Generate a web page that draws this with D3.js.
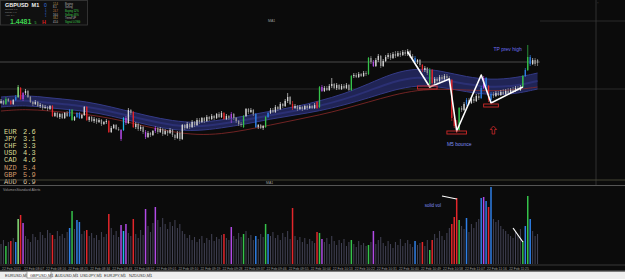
<!DOCTYPE html>
<html><head><meta charset="utf-8">
<script src="https://cdn.jsdelivr.net/npm/d3@7/dist/d3.min.js"></script>
<style>html,body{margin:0;padding:0;background:#0b0b0b;overflow:hidden}svg{display:block}</style>
</head><body><svg id="c" width="625" height="279"></svg>
<script>
// ---------- DATA ----------
const PIP_BASE = 1.4;           // prices stored as pips above 1.4000
const symbol = "GBPUSD  M1";
const lastPrice = "1.4481";
// open, close, high, low (pips over 1.4000), GBPUSD M1
const ohlc = [
[441,443,445,440],[443,440,444,439],[440,445,447,439],[445,443,446,442],[443,440,444,439],
[440,444,445,439],[444,447,449,443],[447,457,459,446],[456,445,457,444],[445,451,452,443],
[451,453,455,449],[453,447,454,446],[447,442,448,441],[442,440,443,438],[440,442,444,439],
[442,438,443,437],[438,439,441,436],[439,436,440,434],[436,437,439,435],[437,435,438,433],
[435,438,439,434],[438,428,439,427],[428,431,432,427],[431,427,432,426],[427,430,431,425],
[430,426,431,425],[426,431,432,425],[431,428,433,427],[428,434,435,427],[434,424,435,423],
[424,427,428,423],[427,431,432,426],[431,426,432,425],[426,429,430,425],[429,437,438,428],
[437,424,438,423],[424,427,428,422],[427,423,428,422],[423,425,427,421],[425,422,426,420],
[422,424,426,421],[424,420,425,418],[420,422,423,419],[422,423,425,420],[423,412,424,411],
[412,416,418,411],[416,419,420,415],[419,415,420,414],[415,414,417,413],[414,405,415,403],
[414,426,427,413],[426,421,428,419],[421,434,436,420],[434,431,435,429],[432,417,433,416],
[417,420,422,415],[420,415,421,413],[415,417,419,413],[417,412,418,410],[412,407,414,405],
[407,411,413,406],[411,409,412,407],[409,413,414,408],[413,416,418,411],[416,412,417,410],
[412,415,417,411],[415,410,416,408],[410,413,415,409],[413,411,414,408],[411,414,416,410],
[414,409,415,407],[409,406,410,404],[406,411,413,405],[411,405,413,403],[405,419,420,404],
[419,416,420,414],[416,420,422,415],[420,417,421,415],[417,422,424,416],[422,419,423,417],
[419,424,426,418],[424,422,426,420],[422,426,427,421],[426,423,427,421],[423,427,429,422],
[427,425,428,423],[425,428,430,424],[428,426,429,424],[426,430,431,425],[430,427,432,426],
[427,431,433,426],[431,425,432,424],[425,428,430,424],[428,426,429,424],[426,430,432,421],
[430,426,431,424],[426,423,427,421],[423,420,424,418],[420,419,422,417],[417,428,429,416],
[428,435,436,427],[435,432,436,430],[432,434,436,431],[434,430,435,428],[430,417,431,416],
[417,419,420,415],[419,416,420,415],[416,418,419,414],[417,427,428,416],[427,431,432,426],
[431,434,436,430],[434,432,436,431],[432,437,439,431],[437,435,438,433],[435,440,442,434],
[440,438,441,436],[438,443,445,437],[443,447,451,441],[447,440,448,439],[440,436,443,434],
[436,438,440,435],[438,435,439,433],[435,437,439,434],[437,435,438,433],[435,438,439,434],
[438,436,439,434],[436,438,440,435],[438,436,439,435],[436,439,441,435],[442,436,443,435],
[437,457,458,436],[457,453,459,452],[453,456,458,452],[456,454,458,453],[454,458,460,453],
[458,460,466,456],[460,456,461,455],[456,459,461,454],[459,455,460,454],[455,458,460,454],
[458,456,460,455],[456,459,461,455],[459,454,460,453],[454,468,469,453],[468,469,471,466],
[469,467,471,466],[467,470,472,466],[470,468,471,467],[468,471,473,467],[471,470,473,468],
[470,486,487,469],[486,482,488,480],[482,478,484,477],[478,484,486,477],[484,488,490,482],
[488,478,489,476],[478,483,485,477],[483,487,489,482],[487,489,491,485],[489,486,491,484],
[486,490,492,485],[490,488,493,486],[488,491,493,487],[491,489,493,487],[489,492,494,488],
[492,490,494,488],[490,493,495,488],[493,488,494,486],[488,486,490,484],[486,482,488,481],
[482,484,485,480],[484,479,485,477],[479,474,480,472],[474,476,478,472],[476,471,477,469],
[460,474,476,458],[474,461,475,459],[461,465,467,460],[465,463,467,461],[463,467,469,462],
[467,465,469,463],[465,468,470,464],[468,466,470,464],[466,464,468,462],[464,426,465,423],
[426,418,432,416],[418,414,424,411],[414,436,437,413],[436,434,438,432],[434,440,442,433],
[440,444,446,438],[444,441,446,439],[441,445,447,440],[445,443,447,441],[443,448,450,442],
[448,446,451,444],[446,456,458,445],[456,466,468,455],[466,458,467,456],[458,444,459,442],
[444,450,452,442],[450,448,452,446],[448,451,453,447],[451,449,453,448],[449,452,454,448],
[452,450,455,449],[450,453,455,449],[453,451,456,450],[451,454,456,450],[454,453,457,451],
[453,456,458,452],[456,454,458,453],[454,457,459,453],[457,468,469,456],[468,474,476,467],
[474,487,499,473],[487,480,489,478],[480,484,486,479],[484,480,486,478],[484,481,485,478]
];
// tick volume per candle
const volume = [
20,24,18,22,23,26,22,45,49,41, 28,25,22,30,27,24,32,29,26,34,
31,29,25,33,28,30,26,32,36,53, 35,44,42,30,33,34,28,31,26,29,
24,32,27,30,50,36,29,33,27,39, 33,40,31,28,45,30,26,34,29,55,
38,32,41,57,44,37,46,40,35,42, 38,44,36,40,33,30,26,29,24,27,
22,25,28,21,26,24,30,23,27,25, 29,30,26,24,37,28,25,31,27,30,
33,26,29,24,28,25,30,27,40,30, 28,32,26,29,24,31,27,33,25,56,
28,24,27,22,26,20,25,23,21,32, 31,25,22,26,20,28,23,19,24,21,
25,18,22,24,20,17,23,19,21,18, 19,22,33,20,24,27,21,18,23,20,
16,22,19,25,18,21,24,20,17,23, 19,21,22,18,24,14,24,30,26,33,
28,24,31,36,40,47,66,44,38,35, 46,32,40,36,42,45,66,67,63,57,
77,45,42,44,38,35,33,30,28,26, 32,29,35,23,38,68,45,33,28,30];
// volume-alert candles (index, type)
const signalIdx  = [2,4,6,7,8,9,21,28,29,31,32,35,44,49,50,51,54,59,63,91,94,99,104,108,109,119,129,130,131,143,150,152,169,172,175,176,184,185,186,187,190,196,197,198,199,200,213,214,215,216];
const signalType = ['g','r','b','l','r','p','r','b','g','b','b','r','r','p','c','p','r','p','p','r','p','g','b','g','b','r','r','g','p','g','g','p','b','r','g','r','r','r','r','g','b','b','p','b','r','b','g','b','g','b'];
// MA envelope (pips) at anchor candles
const bandIdx   = [0,10,20,30,40,50,60,70,80,90,100,110,120,130,140,150,160,170,180,190,200,210,219];
const bandUpper = [447,449,446,444,440,434,428,423,421,424,428,433,437,443,450,460,471,476,473,467,464,466,471];
const bandLower = [437,439,436,434,431,425,419,414,413,416,420,425,429,433,439,446,454,459,457,452,449,450,455];
const slowMA    = [433,435,433,431,428,423,417,412,409,410,414,419,424,429,435,442,449,454,455,454,453,454,457];
// horizontal levels
const levelTP = 482, levelMid = 455, levelTop = 523;
// annotations
const zigzagIdx  = [166,175,183,186,196,200,213];
const zigzagPips = [492,457,465,413,469,441,457];
const boxes = [[170,178,458,455],[182,190,413,410],[197,203,440,437]];
const volLines = [[[180,68],[186,65]],[[209,36],[213,22]]];
// currency strength
const ccyNames = ["EUR","JPY","CHF","USD","CAD","NZD","GBP","AUD"];
const ccyStrength = [2.6,3.1,3.3,4.3,4.6,5.4,5.9,6.9];
// time axis
const timeLabels = ["22 Feb 2011","22 Feb 08:07","22 Feb 08:16","22 Feb 08:25","22 Feb 08:34","22 Feb 08:43","22 Feb 08:52","22 Feb 09:01","22 Feb 09:10","22 Feb 09:19","22 Feb 09:28","22 Feb 09:37","22 Feb 09:46","22 Feb 09:55","22 Feb 10:04","22 Feb 10:13","22 Feb 10:22","22 Feb 10:31","22 Feb 10:40","22 Feb 10:49","22 Feb 10:58","22 Feb 11:07","22 Feb 11:16","22 Feb 11:25"];
const tabs = ["EURUSD,M1","GBPUSD,M1","AUDUSD,M1","USDJPY,M1","EURJPY,M1","NZDUSD,M1"];
const activeTab = 1;

// ---------- DRAW ----------
const W = 625, H = 279;
const svg = d3.select('#c');
const P = v => PIP_BASE + v / 10000;
const x = d3.scaleLinear().domain([0, 219]).range([1, 537.55]);
const y = d3.scaleLinear().domain([1.4366, 1.4532]).range([178, 12]);
const yv = d3.scaleLinear().domain([0, 80]).range([264, 184]);
const COLORS = {r:'#e3262b', g:'#35c24a', l:'#86e07a', b:'#2f7fe6', c:'#22b8ea', p:'#b24ae6'};
const sig = new Map(signalIdx.map((d, k) => [d, signalType[k]]));
const SANS = "'Liberation Sans', Arial, sans-serif";

svg.append('rect').attr('width', W).attr('height', H).attr('fill', '#0b0b0b');

// level lines
svg.append('line').attr('x1', 0).attr('x2', 540).attr('y1', y(P(levelTP))).attr('y2', y(P(levelTP))).attr('stroke', '#5c5c5c').attr('stroke-width', 0.8);
svg.append('line').attr('x1', 0).attr('x2', W).attr('y1', y(P(levelMid))).attr('y2', y(P(levelMid))).attr('stroke', '#333').attr('stroke-width', 0.8);
svg.append('line').attr('x1', 540).attr('x2', W).attr('y1', y(P(levelTop))).attr('y2', y(P(levelTop))).attr('stroke', '#333').attr('stroke-width', 0.8);
svg.append('line').attr('x1', 596).attr('x2', 596).attr('y1', 0).attr('y2', 185).attr('stroke', '#3a3a3a').attr('stroke-width', 0.8);

// band
const bandData = bandIdx.map((d, k) => ({i: d, u: bandUpper[k], l: bandLower[k], m: slowMA[k]}));
const area = d3.area().x(d => x(d.i)).y0(d => y(P(d.l))).y1(d => y(P(d.u))).curve(d3.curveBasis);
svg.append('path').datum(bandData).attr('d', area).attr('fill', '#22265a').attr('opacity', 0.95);
const lineU = d3.line().x(d => x(d.i)).y(d => y(P(d.u))).curve(d3.curveBasis);
const lineL = d3.line().x(d => x(d.i)).y(d => y(P(d.l))).curve(d3.curveBasis);
const lineC = d3.line().x(d => x(d.i)).y(d => y(P((d.u + d.l) / 2))).curve(d3.curveBasis);
svg.append('path').datum(bandData).attr('d', lineU).attr('fill', 'none').attr('stroke', '#343a86').attr('stroke-width', 1);
svg.append('path').datum(bandData).attr('d', lineL).attr('fill', 'none').attr('stroke', '#343a86').attr('stroke-width', 1);
svg.append('path').datum(bandData).attr('d', lineC).attr('fill', 'none').attr('stroke', '#2b3074').attr('stroke-width', 2);
const lineM = d3.line().x(d => x(d.i)).y(d => y(P(d.m))).curve(d3.curveBasis);
svg.append('path').datum(bandData).attr('d', lineM).attr('fill', 'none').attr('stroke', '#8a2a2a').attr('stroke-width', 0.8);

// candles
const cg = svg.append('g');
ohlc.forEach((c, i) => {
  const [o, cl, h, l] = c;
  const t = sig.get(i);
  const col = t ? COLORS[t] : (cl >= o ? '#d4d4d4' : '#969696');
  cg.append('line').attr('x1', x(i)).attr('x2', x(i)).attr('y1', y(P(h))).attr('y2', y(P(l))).attr('stroke', col).attr('stroke-width', 0.7);
  const top = y(P(Math.max(o, cl))), bot = y(P(Math.min(o, cl)));
  cg.append('rect').attr('x', x(i) - 0.65).attr('y', top).attr('width', 1.3).attr('height', Math.max(1, bot - top)).attr('fill', col);
});

// zigzag
const zz = zigzagIdx.map((d, k) => [x(d), y(P(zigzagPips[k]))]);
svg.append('path').attr('d', d3.line()(zz)).attr('fill', 'none').attr('stroke', '#ffffff').attr('stroke-width', 1.6).attr('stroke-linejoin', 'round');
boxes.forEach(b => {
  svg.append('rect').attr('x', x(b[0])).attr('y', y(P(b[2]))).attr('width', x(b[1]) - x(b[0])).attr('height', y(P(b[3])) - y(P(b[2])))
    .attr('fill', 'none').attr('stroke', '#d02828').attr('stroke-width', 0.9);
});
// arrow
{
  const cx = x(201), t = y(P(418)), b = y(P(410));
  svg.append('path').attr('d', `M${cx},${t} L${cx+3.2},${t+3.5} L${cx+1.3},${t+3.5} L${cx+1.3},${b} L${cx-1.3},${b} L${cx-1.3},${t+3.5} L${cx-3.2},${t+3.5} Z`)
    .attr('fill', 'none').attr('stroke', '#d02828').attr('stroke-width', 0.8);
}
svg.append('text').attr('x', x(201)).attr('y', y(P(493))).text('TP prev high').attr('font-family', SANS).attr('font-size', 5).attr('fill', '#6c6cf0');
svg.append('text').attr('x', x(182)).attr('y', y(P(398))).text('M5 bounce').attr('font-family', SANS).attr('font-size', 5).attr('fill', '#7c8cf0');
svg.append('text').attr('x', 268).attr('y', y(P(522))).text('MA1').attr('font-family', SANS).attr('font-size', 3.5).attr('fill', '#9a9a9a');

// currency strength
ccyNames.forEach((n, k) => {
  const col = k < 5 ? '#dcdc96' : (k < 7 ? '#d29a6a' : '#d8c0a0');
  const yy = 134 + k * 7.1;
  svg.append('text').attr('x', 4).attr('y', yy).text(n).attr('font-family', "'Liberation Mono', monospace").attr('font-size', 7).attr('fill', col);
  svg.append('text').attr('x', 23).attr('y', yy).text(ccyStrength[k].toFixed(1)).attr('font-family', "'Liberation Mono', monospace").attr('font-size', 7).attr('fill', col);
});

// separators
svg.append('line').attr('x1', 0).attr('x2', W).attr('y1', 180).attr('y2', 180).attr('stroke', '#4a4a38').attr('stroke-width', 0.9);
svg.append('text').attr('x', 266).attr('y', 183.5).text('MA1').attr('font-family', SANS).attr('font-size', 3.5).attr('fill', '#9a9a9a');
svg.append('line').attr('x1', 0).attr('x2', W).attr('y1', 185.5).attr('y2', 185.5).attr('stroke', '#555').attr('stroke-width', 1);
svg.append('text').attr('x', 3).attr('y', 190.5).text('VolumesStandard Alerts').attr('font-family', SANS).attr('font-size', 3.5).attr('fill', '#9a9a9a');

// volumes
const vg = svg.append('g');
volume.forEach((v, i) => {
  const t = sig.get(i);
  vg.append('line').attr('x1', x(i)).attr('x2', x(i)).attr('y1', yv(0)).attr('y2', yv(v))
    .attr('stroke', t ? COLORS[t] : '#4a4a5e').attr('stroke-width', t ? 1.5 : 0.9);
});
volLines.forEach(l => {
  svg.append('line').attr('x1', x(l[0][0])).attr('y1', yv(l[0][1])).attr('x2', x(l[1][0])).attr('y2', yv(l[1][1])).attr('stroke', '#fff').attr('stroke-width', 1.2);
});
svg.append('text').attr('x', x(173)).attr('y', yv(57)).text('solid vol').attr('font-family', SANS).attr('font-size', 4.5).attr('fill', '#7c8cf0');

// bottom lines and time labels
svg.append('line').attr('x1', 0).attr('x2', W).attr('y1', 265).attr('y2', 265).attr('stroke', '#444').attr('stroke-width', 0.8);
timeLabels.forEach((t, k) => {
  svg.append('text').attr('x', x(k * 9) + 1).attr('y', 269.5).text(t).attr('font-family', SANS).attr('font-size', 3.4).attr('fill', '#9a9a9a');
});
svg.append('line').attr('x1', 0).attr('x2', W).attr('y1', 270.5).attr('y2', 270.5).attr('stroke', '#444').attr('stroke-width', 0.8);

// tab bar
svg.append('rect').attr('x', 0).attr('y', 271.5).attr('width', W).attr('height', 7.5).attr('fill', '#eeeeee');
const tabX = [3, 28, 53, 78, 102, 127], tabW = [23, 24, 23, 22, 22, 23];
tabs.forEach((t, k) => {
  if (k === activeTab) svg.append('rect').attr('x', tabX[k] - 1).attr('y', 271.5).attr('width', tabW[k]).attr('height', 6.5).attr('fill', '#fff').attr('stroke', '#777').attr('stroke-width', 0.6);
  svg.append('text').attr('x', tabX[k] + 2).attr('y', 276.8).text(t).attr('font-family', SANS).attr('font-size', 4).attr('fill', '#333');
  svg.append('line').attr('x1', tabX[k] + tabW[k]).attr('x2', tabX[k] + tabW[k]).attr('y1', 273).attr('y2', 277.5).attr('stroke', '#999').attr('stroke-width', 0.5);
});

// info panel
svg.append('rect').attr('x', 0.5).attr('y', 0.5).attr('width', 87).attr('height', 24.5).attr('fill', '#101010').attr('stroke', '#3c3c3c').attr('stroke-width', 0.8);
svg.append('text').attr('x', 5).attr('y', 7).text(symbol).attr('font-family', SANS).attr('font-weight', 'bold').attr('font-size', 5.5).attr('fill', '#f0f0f0').attr('xml:space', 'preserve');
const infoRows = ["Spread:  1.8", "Range:   9.1", "ATR:     3.4"];
infoRows.forEach((r, k) => svg.append('text').attr('x', 5).attr('y', 10 + k * 2.8).text(r).attr('font-family', SANS).attr('font-size', 2.4).attr('fill', '#8a8a8a'));
svg.append('text').attr('x', 10).attr('y', 23.8).text(lastPrice).attr('font-family', SANS).attr('font-weight', 'bold').attr('font-size', 7).attr('fill', '#3fd24f');
svg.append('text').attr('x', 34.5).attr('y', 23.5).text('5').attr('font-family', SANS).attr('font-size', 3.5).attr('fill', '#3fd24f');
svg.append('text').attr('x', 44).attr('y', 6.5).text('0').attr('font-family', SANS).attr('font-size', 5).attr('fill', '#3a7ae0');
['1', '2', '1'].forEach((t, k) => svg.append('text').attr('x', 45).attr('y', 10.5 + k * 3.2).text(t).attr('font-family', SANS).attr('font-size', 2.6).attr('fill', '#3a7ae0'));
svg.append('text').attr('x', 42).attr('y', 24).text('H').attr('font-family', SANS).attr('font-weight', 'bold').attr('font-size', 5.5).attr('fill', '#d82020');
const colA = ["12.4", "8.1", "24.7", "16.0", "33.2", "41.0"];
const colAc = ['#c8a050', '#c8c8c8', '#d08040', '#c8c8c8', '#c8a050', '#c8c8c8'];
colA.forEach((t, k) => svg.append('text').attr('x', 53).attr('y', 4.5 + k * 3.7).text(t).attr('font-family', SANS).attr('font-size', 2.6).attr('fill', colAc[k]));
const colB = ["Buying", "Selling", "Buying 52%", "Selling 48%", "Trend UP", "Signal LONG"];
const colBc = ['#b0b0b0', '#b0b0b0', '#3fd24f', '#3fd24f', '#b0b0b0', '#3fd24f'];
colB.forEach((t, k) => svg.append('text').attr('x', 65).attr('y', 4.5 + k * 3.7).text(t).attr('font-family', SANS).attr('font-size', 2.6).attr('fill', colBc[k]));
svg.append('text').attr('x', 597).attr('y', 4).text('::').attr('font-family', SANS).attr('font-size', 3).attr('fill', '#888');
</script></body></html>
